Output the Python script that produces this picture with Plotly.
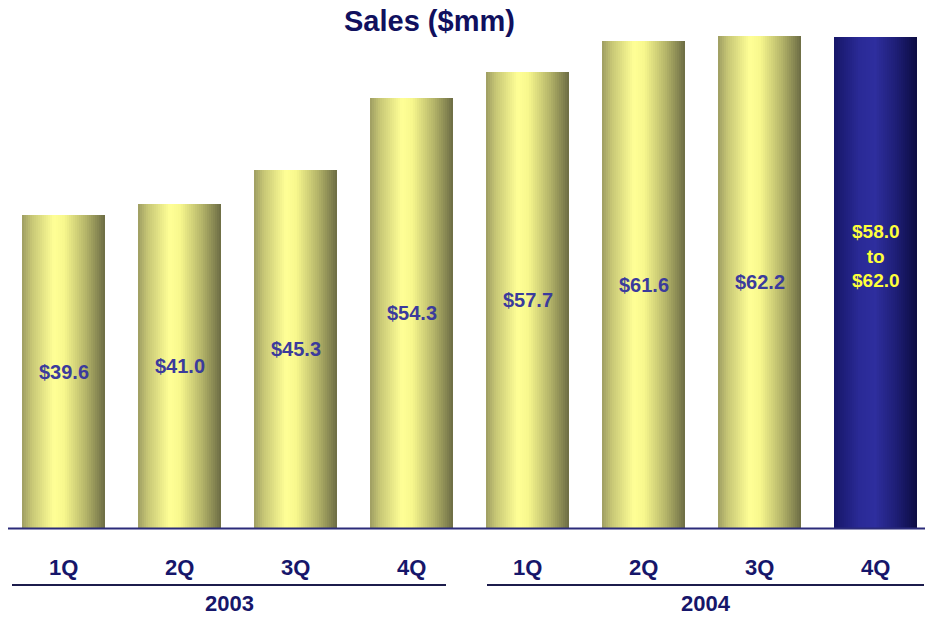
import plotly.graph_objects as go

# Quarterly sales, $ millions
quarters = ["1Q", "2Q", "3Q", "4Q", "1Q", "2Q", "3Q", "4Q"]
years = ["2003", "2004"]
sales = [39.6, 41.0, 45.3, 54.3, 57.7, 61.6, 62.2, 62.0]
value_labels = ["$39.6", "$41.0", "$45.3", "$54.3", "$57.7", "$61.6", "$62.2",
                "$58.0<br>to<br>$62.0"]
is_guidance = [False] * 7 + [True]

W, H = 932, 624
PX_PER_SLOT = 116.0           # horizontal pixels per quarter
X0 = -63.5 / PX_PER_SLOT      # left edge of the x range
X1 = X0 + W / PX_PER_SLOT
BASE_PX = 528.5               # pixel row of the zero line
PX_PER_UNIT = 7.92
Y1 = BASE_PX / PX_PER_UNIT
Y0 = -(H - BASE_PX) / PX_PER_UNIT

BAR_W = 83 / PX_PER_SLOT
N_STRIPS = 42

yellow_stops = [(0.0, (158, 157, 98)), (0.12, (200, 200, 118)), (0.38, (255, 255, 150)),
                (0.52, (246, 246, 140)), (0.78, (178, 178, 104)), (1.0, (108, 108, 68))]
navy_stops = [(0.0, (22, 22, 104)), (0.3, (42, 42, 150)), (0.5, (46, 46, 158)),
              (0.75, (30, 30, 118)), (1.0, (12, 12, 66))]

FONT = "Liberation Sans, Arial"


def ramp(stops, t):
    for (t0, c0), (t1, c1) in zip(stops, stops[1:]):
        if t <= t1:
            f = (t - t0) / (t1 - t0) if t1 > t0 else 0
            return "rgb(%d,%d,%d)" % tuple(round(a + (b - a) * f) for a, b in zip(c0, c1))
    return "rgb(%d,%d,%d)" % stops[-1][1]


def py(px):
    """Pixel row from the top -> paper y."""
    return 1 - px / H


xs = list(range(len(sales)))
fig = go.Figure()

# Each bar is built from narrow vertical strips to give it a cylindrical shading
step = BAR_W / N_STRIPS
for i in range(N_STRIPS):
    t = (i + 0.5) / N_STRIPS
    colors = [ramp(navy_stops if g else yellow_stops, t) for g in is_guidance]
    fig.add_trace(go.Bar(
        x=xs, y=sales,
        width=step * 1.6 if i < N_STRIPS - 1 else step,
        offset=-BAR_W / 2 + i * step,
        marker=dict(color=colors, line=dict(width=0)),
        hoverinfo="skip", showlegend=False,
    ))

# Value labels, centred inside each bar
for x, v, lab, g in zip(xs, sales, value_labels, is_guidance):
    fig.add_annotation(
        x=x, y=v / 2, xref="x", yref="y", text=lab, showarrow=False,
        xanchor="center", yanchor="middle",
        yshift=27 if g else 0,
        font=dict(family=FONT, size=19 if g else 20,
                  weight="bold", color="#ffff3a" if g else "#3b3b9c"),
    )

# Quarter labels under the zero line
for x, q in zip(xs, quarters):
    fig.add_annotation(
        x=x, y=py(567), xref="x", yref="paper", text=q, showarrow=False,
        xanchor="center", yanchor="middle",
        font=dict(family=FONT, size=22, weight="bold", color="#16166a"),
    )

# Year groups: underline and label
groups = [(12, 446), (487, 924)]
for yr, (a, b) in zip(years, groups):
    fig.add_shape(type="line", xref="paper", yref="paper",
                  x0=a / W, x1=b / W, y0=py(585), y1=py(585),
                  line=dict(color="#1c1c4c", width=2))
    fig.add_annotation(
        x=(a + b) / 2 / W, y=py(603), xref="paper", yref="paper", text=yr,
        showarrow=False, xanchor="center", yanchor="middle",
        font=dict(family=FONT, size=22, weight="bold", color="#16166a"),
    )

# Zero line
fig.add_shape(type="line", xref="paper", yref="y", x0=8 / W, x1=925 / W, y0=0, y1=0,
              line=dict(color="#2b2b7a", width=2))

# Title
fig.add_annotation(
    x=429 / W, y=py(21), xref="paper", yref="paper", text="Sales ($mm)",
    showarrow=False, xanchor="center", yanchor="middle",
    font=dict(family=FONT, size=29, weight="bold", color="#10105e"),
)

fig.update_layout(
    width=W, height=H,
    margin=dict(l=0, r=0, t=0, b=0),
    paper_bgcolor="white", plot_bgcolor="white",
    barmode="overlay", bargap=0,
    xaxis=dict(range=[X0, X1], visible=False, fixedrange=True),
    yaxis=dict(range=[Y0, Y1], visible=False, fixedrange=True),
    showlegend=False,
)

fig.write_html("out.html")
